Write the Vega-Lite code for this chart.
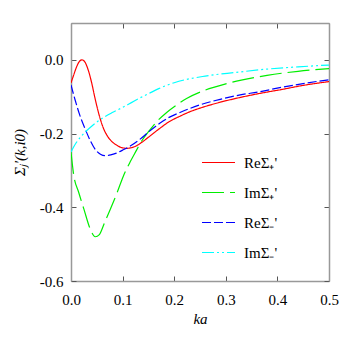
{
  "$schema": "https://vega.github.io/schema/vega-lite/v6.json",
  "width": 258,
  "height": 258,
  "autosize": {"type": "none"},
  "padding": {"left": 71, "top": 23, "right": 25, "bottom": 66},
  "background": "white",
  "config": {
    "view": {"stroke": null},
    "axis": {
      "grid": false,
      "domainColor": "#999999",
      "domainWidth": 1.5,
      "tickColor": "#555555",
      "tickSize": -5,
      "tickWidth": 1,
      "labelFlush": false,
      "labelFont": "Liberation Serif",
      "labelFontSize": 15,
      "labelColor": "black",
      "titleFont": "Liberation Serif",
      "titleFontStyle": "italic",
      "titleFontWeight": "normal",
      "titleFontSize": 15,
      "titleColor": "black"
    }
  },
  "data": {"values": [
    {"ka": 0, "v": -0.0625, "s": "ReΣ₊'"},
    {"ka": 0.005, "v": -0.042, "s": "ReΣ₊'"},
    {"ka": 0.01, "v": -0.022, "s": "ReΣ₊'"},
    {"ka": 0.015, "v": -0.007, "s": "ReΣ₊'"},
    {"ka": 0.021, "v": 0.0, "s": "ReΣ₊'"},
    {"ka": 0.027, "v": -0.006, "s": "ReΣ₊'"},
    {"ka": 0.033, "v": -0.026, "s": "ReΣ₊'"},
    {"ka": 0.04, "v": -0.062, "s": "ReΣ₊'"},
    {"ka": 0.047, "v": -0.107, "s": "ReΣ₊'"},
    {"ka": 0.056, "v": -0.157, "s": "ReΣ₊'"},
    {"ka": 0.063, "v": -0.186, "s": "ReΣ₊'"},
    {"ka": 0.069, "v": -0.203, "s": "ReΣ₊'"},
    {"ka": 0.078, "v": -0.22, "s": "ReΣ₊'"},
    {"ka": 0.088, "v": -0.231, "s": "ReΣ₊'"},
    {"ka": 0.098, "v": -0.238, "s": "ReΣ₊'"},
    {"ka": 0.108, "v": -0.24, "s": "ReΣ₊'"},
    {"ka": 0.118, "v": -0.238, "s": "ReΣ₊'"},
    {"ka": 0.127, "v": -0.233, "s": "ReΣ₊'"},
    {"ka": 0.134, "v": -0.227, "s": "ReΣ₊'"},
    {"ka": 0.15, "v": -0.21, "s": "ReΣ₊'"},
    {"ka": 0.172, "v": -0.186, "s": "ReΣ₊'"},
    {"ka": 0.19, "v": -0.168, "s": "ReΣ₊'"},
    {"ka": 0.211, "v": -0.153, "s": "ReΣ₊'"},
    {"ka": 0.23, "v": -0.141, "s": "ReΣ₊'"},
    {"ka": 0.25, "v": -0.131, "s": "ReΣ₊'"},
    {"ka": 0.289, "v": -0.115, "s": "ReΣ₊'"},
    {"ka": 0.328, "v": -0.102, "s": "ReΣ₊'"},
    {"ka": 0.366, "v": -0.091, "s": "ReΣ₊'"},
    {"ka": 0.41, "v": -0.08, "s": "ReΣ₊'"},
    {"ka": 0.447, "v": -0.07, "s": "ReΣ₊'"},
    {"ka": 0.5, "v": -0.059, "s": "ReΣ₊'"},

    {"ka": 0, "v": -0.25, "s": "ImΣ₊'"},
    {"ka": 0.005, "v": -0.31, "s": "ImΣ₊'"},
    {"ka": 0.015, "v": -0.36, "s": "ImΣ₊'"},
    {"ka": 0.025, "v": -0.405, "s": "ImΣ₊'"},
    {"ka": 0.037, "v": -0.458, "s": "ImΣ₊'"},
    {"ka": 0.047, "v": -0.48, "s": "ImΣ₊'"},
    {"ka": 0.055, "v": -0.474, "s": "ImΣ₊'"},
    {"ka": 0.065, "v": -0.442, "s": "ImΣ₊'"},
    {"ka": 0.076, "v": -0.406, "s": "ImΣ₊'"},
    {"ka": 0.09, "v": -0.358, "s": "ImΣ₊'"},
    {"ka": 0.101, "v": -0.317, "s": "ImΣ₊'"},
    {"ka": 0.115, "v": -0.276, "s": "ImΣ₊'"},
    {"ka": 0.127, "v": -0.245, "s": "ImΣ₊'"},
    {"ka": 0.134, "v": -0.227, "s": "ImΣ₊'"},
    {"ka": 0.153, "v": -0.19, "s": "ImΣ₊'"},
    {"ka": 0.166, "v": -0.168, "s": "ImΣ₊'"},
    {"ka": 0.186, "v": -0.142, "s": "ImΣ₊'"},
    {"ka": 0.205, "v": -0.122, "s": "ImΣ₊'"},
    {"ka": 0.224, "v": -0.105, "s": "ImΣ₊'"},
    {"ka": 0.26, "v": -0.082, "s": "ImΣ₊'"},
    {"ka": 0.3, "v": -0.065, "s": "ImΣ₊'"},
    {"ka": 0.33, "v": -0.055, "s": "ImΣ₊'"},
    {"ka": 0.38, "v": -0.042, "s": "ImΣ₊'"},
    {"ka": 0.44, "v": -0.031, "s": "ImΣ₊'"},
    {"ka": 0.5, "v": -0.024, "s": "ImΣ₊'"},

    {"ka": 0, "v": -0.068, "s": "ReΣ₋'"},
    {"ka": 0.008, "v": -0.109, "s": "ReΣ₋'"},
    {"ka": 0.017, "v": -0.15, "s": "ReΣ₋'"},
    {"ka": 0.027, "v": -0.186, "s": "ReΣ₋'"},
    {"ka": 0.037, "v": -0.218, "s": "ReΣ₋'"},
    {"ka": 0.047, "v": -0.243, "s": "ReΣ₋'"},
    {"ka": 0.057, "v": -0.256, "s": "ReΣ₋'"},
    {"ka": 0.066, "v": -0.26, "s": "ReΣ₋'"},
    {"ka": 0.077, "v": -0.258, "s": "ReΣ₋'"},
    {"ka": 0.088, "v": -0.253, "s": "ReΣ₋'"},
    {"ka": 0.1, "v": -0.245, "s": "ReΣ₋'"},
    {"ka": 0.117, "v": -0.232, "s": "ReΣ₋'"},
    {"ka": 0.134, "v": -0.215, "s": "ReΣ₋'"},
    {"ka": 0.15, "v": -0.196, "s": "ReΣ₋'"},
    {"ka": 0.172, "v": -0.172, "s": "ReΣ₋'"},
    {"ka": 0.19, "v": -0.156, "s": "ReΣ₋'"},
    {"ka": 0.211, "v": -0.143, "s": "ReΣ₋'"},
    {"ka": 0.23, "v": -0.132, "s": "ReΣ₋'"},
    {"ka": 0.25, "v": -0.122, "s": "ReΣ₋'"},
    {"ka": 0.289, "v": -0.107, "s": "ReΣ₋'"},
    {"ka": 0.328, "v": -0.095, "s": "ReΣ₋'"},
    {"ka": 0.363, "v": -0.087, "s": "ReΣ₋'"},
    {"ka": 0.41, "v": -0.074, "s": "ReΣ₋'"},
    {"ka": 0.447, "v": -0.065, "s": "ReΣ₋'"},
    {"ka": 0.5, "v": -0.054, "s": "ReΣ₋'"},

    {"ka": 0, "v": -0.25, "s": "ImΣ₋'"},
    {"ka": 0.01, "v": -0.225, "s": "ImΣ₋'"},
    {"ka": 0.02, "v": -0.207, "s": "ImΣ₋'"},
    {"ka": 0.04, "v": -0.18, "s": "ImΣ₋'"},
    {"ka": 0.06, "v": -0.159, "s": "ImΣ₋'"},
    {"ka": 0.08, "v": -0.143, "s": "ImΣ₋'"},
    {"ka": 0.1, "v": -0.129, "s": "ImΣ₋'"},
    {"ka": 0.117, "v": -0.116, "s": "ImΣ₋'"},
    {"ka": 0.134, "v": -0.103, "s": "ImΣ₋'"},
    {"ka": 0.15, "v": -0.092, "s": "ImΣ₋'"},
    {"ka": 0.17, "v": -0.078, "s": "ImΣ₋'"},
    {"ka": 0.2, "v": -0.062, "s": "ImΣ₋'"},
    {"ka": 0.26, "v": -0.044, "s": "ImΣ₋'"},
    {"ka": 0.32, "v": -0.034, "s": "ImΣ₋'"},
    {"ka": 0.38, "v": -0.025, "s": "ImΣ₋'"},
    {"ka": 0.44, "v": -0.019, "s": "ImΣ₋'"},
    {"ka": 0.5, "v": -0.014, "s": "ImΣ₋'"}
  ]},
  "layer": [
    {
      "mark": {"type": "line", "strokeWidth": 1.2, "interpolate": "monotone", "clip": true},
      "encoding": {
        "x": {"field": "ka", "type": "quantitative", "scale": {"domain": [0, 0.5], "nice": false},
          "axis": {"title": "ka", "values": [0, 0.1, 0.2, 0.3, 0.4, 0.5], "format": ".1f", "labelPadding": 16, "titlePadding": 4}},
        "y": {"field": "v", "type": "quantitative", "scale": {"domain": [-0.6, 0.1], "nice": false, "zero": false},
          "axis": {"title": "Σⱼ'(k,i0)", "values": [-0.6, -0.4, -0.2, 0.0], "labelExpr": "(datum.value < -0.001 ? '-' : '') + format(abs(datum.value), '.1f')", "labelPadding": 13, "titlePadding": 12}},
        "color": {"field": "s", "type": "nominal",
          "scale": {"domain": ["ReΣ₊'", "ImΣ₊'", "ReΣ₋'", "ImΣ₋'"], "range": ["#ff0000", "#00ee00", "#0000ff", "#00ffff"]},
          "legend": {"title": null, "orient": "none", "legendX": 130, "legendY": 122, "symbolType": "stroke", "symbolSize": 1089, "symbolStrokeWidth": 1.2, "symbolOpacity": 1, "labelFont": "Liberation Serif", "labelFontSize": 15, "labelOffset": 8, "rowPadding": 4, "labelColor": "black"}},
        "strokeDash": {"field": "s", "type": "nominal",
          "scale": {"domain": ["ReΣ₊'", "ImΣ₊'", "ReΣ₋'", "ImΣ₋'"], "range": [[1, 0], [22, 6], [9, 3], [12, 3, 2, 3, 2, 3]]},
          "legend": null}
      }
    },
    {
      "mark": {"type": "line", "strokeOpacity": 0},
      "encoding": {
        "x": {"field": "ka", "type": "quantitative", "axis": {"orient": "top", "labels": false, "title": null, "values": [0, 0.1, 0.2, 0.3, 0.4, 0.5]}},
        "y": {"field": "v", "type": "quantitative", "axis": {"orient": "right", "labels": false, "title": null, "values": [-0.6, -0.4, -0.2, 0.0]}}
      }
    }
  ],
  "resolve": {"axis": {"x": "independent", "y": "independent"}}
}
